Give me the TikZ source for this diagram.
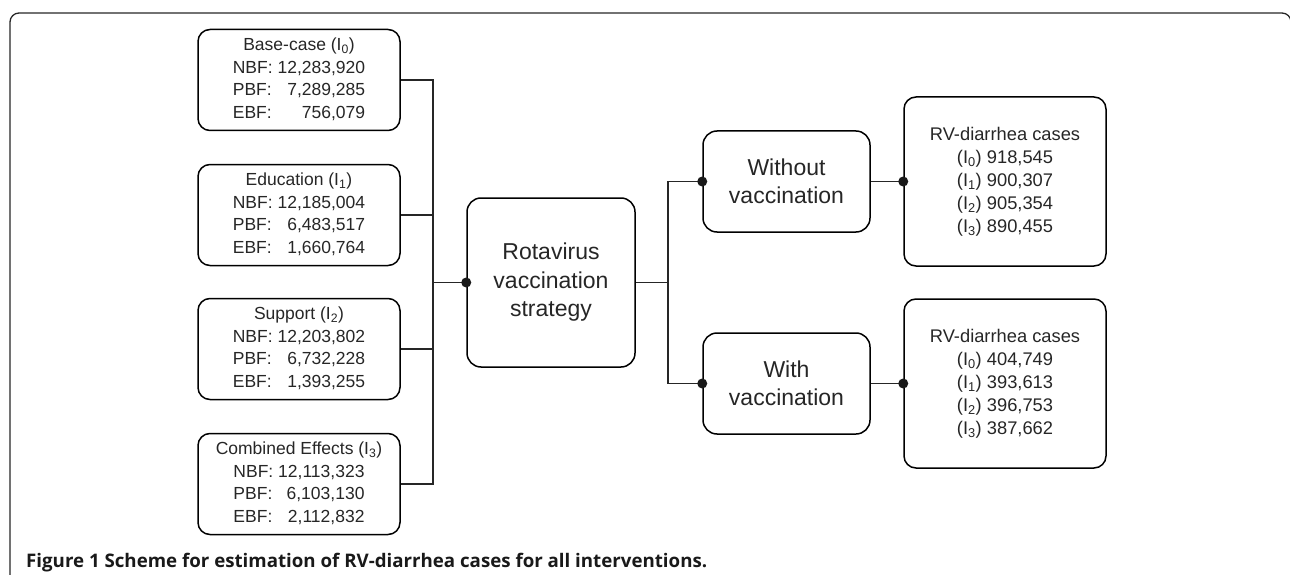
\documentclass[tikz,border=0pt]{standalone}
\usepackage{fontspec}
\setmainfont{Liberation Sans}
\newfontfamily\capfont{Open Sans}
\begin{document}
\begin{tikzpicture}[x=1pt,y=-1pt,
  box/.style={draw, line width=1.5pt, rounded corners=12pt, align=center, inner sep=0pt, text=black!85},
  leftbox/.style={box, minimum width=202pt, minimum height=101pt, font=\fontsize{17.5}{22.7}\selectfont},
  midbox/.style={box, rounded corners=14pt, font=\fontsize{23}{28.5}\selectfont},
  rightbox/.style={box, minimum width=202pt, minimum height=169pt, font=\fontsize{18.3}{23}\selectfont},
  conn/.style={line width=1.3pt, black!85},
  dot/.style={circle, fill=black!90, inner sep=0pt, minimum size=10pt}
]
\useasboundingbox (0,0) rectangle (1290,575);
% frame
\draw[line width=1.3pt, black!85, rounded corners=9pt] (10,580) -- (10,13) -- (1291,13) -- (1291,60);

\newcommand{\tb}[4]{\begin{tabular}{@{}c@{}}#1\\\begin{tabular}[t]{@{}l@{\ }r@{}}NBF: & #2\\ PBF: & #3\\ EBF: & #4\end{tabular}\end{tabular}}

\node[leftbox] (b0) at (299,80) {\tb{Base-case (I\textsubscript{0})}{12,283,920}{7,289,285}{756,079}};
\node[leftbox] (b1) at (299,215) {\tb{Education (I\textsubscript{1})}{12,185,004}{6,483,517}{1,660,764}};
\node[leftbox] (b2) at (299,349) {\tb{Support (I\textsubscript{2})}{12,203,802}{6,732,228}{1,393,255}};
\node[leftbox] (b3) at (299,484) {\tb{Combined Effects (I\textsubscript{3})}{12,113,323}{6,103,130}{2,112,832}};

\node[midbox, minimum width=168pt, minimum height=169pt] (strat) at (551,282.5) {Rotavirus\\vaccination\\strategy};
\node[midbox, minimum width=167pt, minimum height=101pt] (wo) at (786.5,181.5) {Without\\vaccination};
\node[midbox, minimum width=167pt, minimum height=101pt] (w) at (786.5,383.5) {With\\vaccination};

\node[rightbox] (r0) at (1005,181.5) {RV-diarrhea cases\\(I\textsubscript{0}) 918,545\\(I\textsubscript{1}) 900,307\\(I\textsubscript{2}) 905,354\\(I\textsubscript{3}) 890,455};
\node[rightbox] (r1) at (1005,383.5) {RV-diarrhea cases\\(I\textsubscript{0}) 404,749\\(I\textsubscript{1}) 393,613\\(I\textsubscript{2}) 396,753\\(I\textsubscript{3}) 387,662};

\coordinate (j) at (433,282.5);
\coordinate (k) at (668,282.5);

\draw[conn] (b0.east) -| (j);
\draw[conn] (b3.east) -| (j);
\draw[conn] (b1.east) -- (b1.east -| j);
\draw[conn] (b2.east) -- (b2.east -| j);
\draw[conn, line width=1.8pt] (j) -- (strat.west);
\draw[conn] (strat.east) -- (k);
\draw[conn] (k) |- (wo.west);
\draw[conn] (k) |- (w.west);
\draw[conn] (wo.east) -- (r0.west);
\draw[conn] (w.east) -- (r1.west);

\node[dot] (d1) at (strat.west) {};
\node[dot] (d2) at (wo.west) {};
\node[dot] (d3) at (w.west) {};
\node[dot] (d4) at (r0.west) {};
\node[dot] (d5) at (r1.west) {};

\node[anchor=base west, inner sep=0pt, text=black!90, font=\capfont\bfseries\fontsize{18.7}{22}\selectfont] (cap) at (26,567.5) {Figure 1 Scheme for estimation of RV-diarrhea cases for all interventions.};
\end{tikzpicture}
\end{document}
